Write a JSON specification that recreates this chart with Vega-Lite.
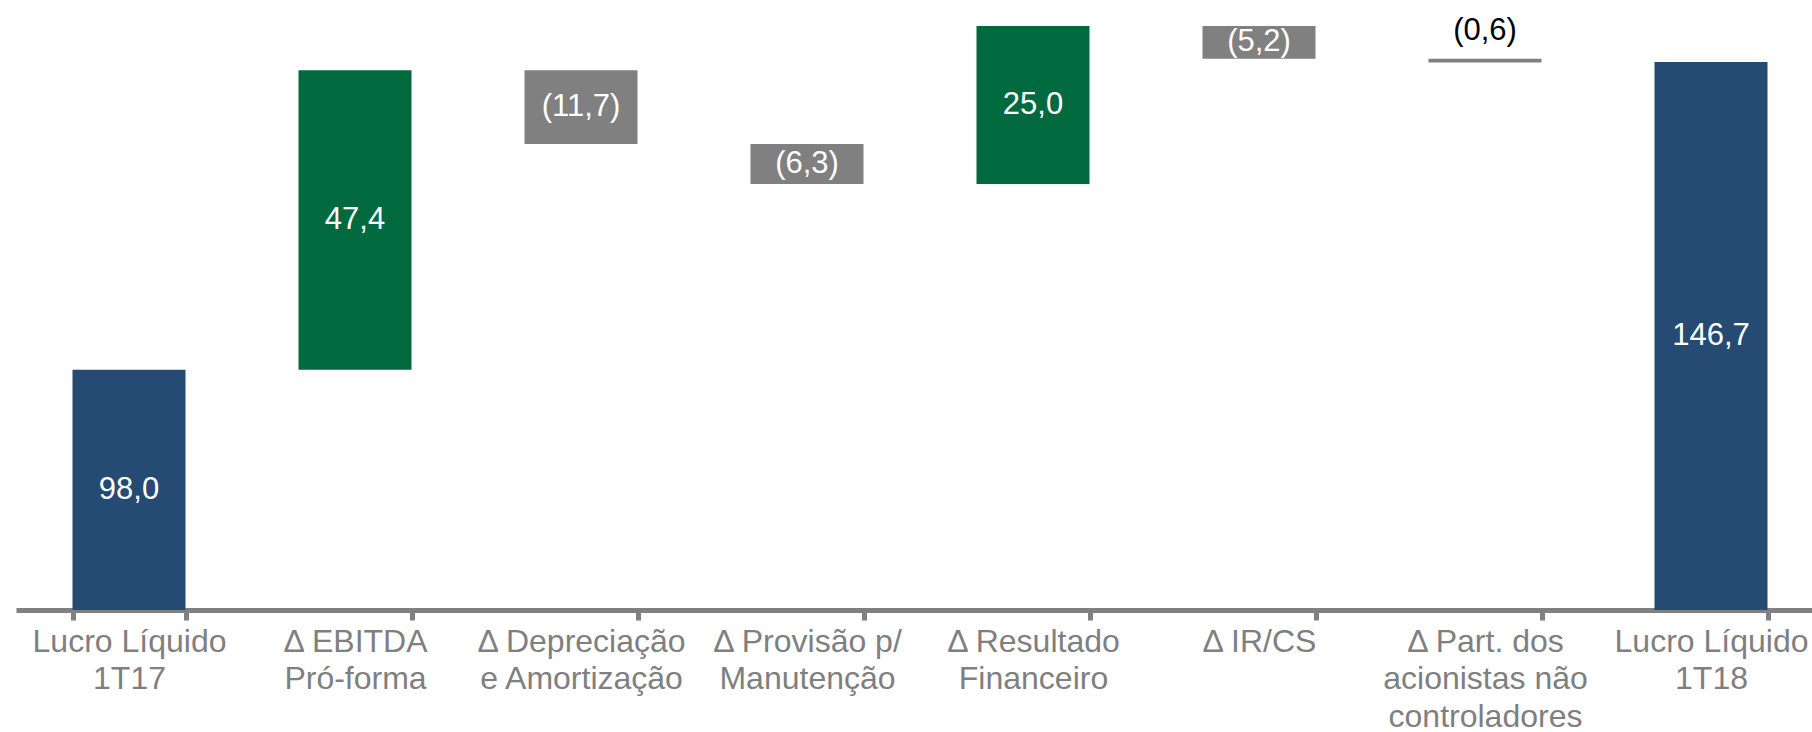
{
  "$schema": "https://vega.github.io/schema/vega-lite/v6.json",
  "width": 1796,
  "height": 610,
  "autosize": {"type": "none"},
  "padding": {"left": 16, "top": 0, "right": 0, "bottom": 122},
  "background": "white",
  "config": {"view": {"stroke": null}, "font": "Liberation Sans"},
  "data": {
    "values": [
      {"cat": "Lucro Líquido|1T17", "start": 0, "end": 98.0, "type": "total", "label": "98,0"},
      {"cat": "Δ EBITDA|Pró-forma", "start": 98.0, "end": 145.4, "type": "pos", "label": "47,4"},
      {"cat": "Δ Depreciação|e Amortização", "start": 145.4, "end": 133.7, "type": "neg", "label": "(11,7)"},
      {"cat": "Δ Provisão p/|Manutenção", "start": 133.7, "end": 127.4, "type": "neg", "label": "(6,3)"},
      {"cat": "Δ Resultado|Financeiro", "start": 127.4, "end": 152.4, "type": "pos", "label": "25,0"},
      {"cat": "Δ IR/CS", "start": 152.4, "end": 147.2, "type": "neg", "label": "(5,2)"},
      {"cat": "Δ Part. dos|acionistas não|controladores", "start": 147.2, "end": 146.6, "type": "neg", "label": "(0,6)"},
      {"cat": "Lucro Líquido|1T18", "start": 0, "end": 146.7, "type": "total", "label": "146,7"}
    ]
  },
  "encoding": {
    "x": {
      "field": "cat",
      "type": "nominal",
      "sort": null,
      "scale": {"range": [0, 1808], "paddingInner": 0.5, "paddingOuter": 0.25},
      "axis": {
        "title": null,
        "labelAngle": 0,
        "labelExpr": "split(datum.label, '|')",
        "labelFontSize": 32,
        "labelColor": "#7f7f7f",
        "labelLineHeight": 37.5,
        "labelPadding": 6,
        "labelBaseline": "top",
        "labelLimit": 400,
        "labelFont": "Liberation Sans",
        "domainColor": "#808080",
        "domainWidth": 5,
        "tickColor": "#808080",
        "tickWidth": 5,
        "tickSize": 10,
        "tickBand": "extent",
        "labelOverlap": false
      }
    }
  },
  "layer": [
    {
      "mark": {"type": "bar", "clip": true},
      "encoding": {
        "y": {"field": "start", "type": "quantitative", "scale": {"domain": [60, 156.5], "zero": false, "nice": false}, "axis": null},
        "y2": {"field": "end"},
        "color": {
          "field": "type",
          "type": "nominal",
          "scale": {"domain": ["total", "pos", "neg"], "range": ["#264b73", "#006a3e", "#808080"]},
          "legend": null
        }
      }
    },
    {
      "transform": [
        {"filter": "datum.label != '(0,6)'"},
        {"calculate": "(max(datum.start, 60) + datum.end) / 2", "as": "mid"}
      ],
      "mark": {"type": "text", "color": "white", "fontSize": 31, "baseline": "middle"},
      "encoding": {
        "y": {"field": "mid", "type": "quantitative"},
        "text": {"field": "label"}
      }
    },
    {
      "transform": [{"filter": "datum.label == '(0,6)'"}],
      "mark": {"type": "text", "color": "black", "fontSize": 31, "baseline": "bottom", "dy": -12},
      "encoding": {
        "y": {"field": "start", "type": "quantitative"},
        "text": {"field": "label"}
      }
    }
  ]
}
